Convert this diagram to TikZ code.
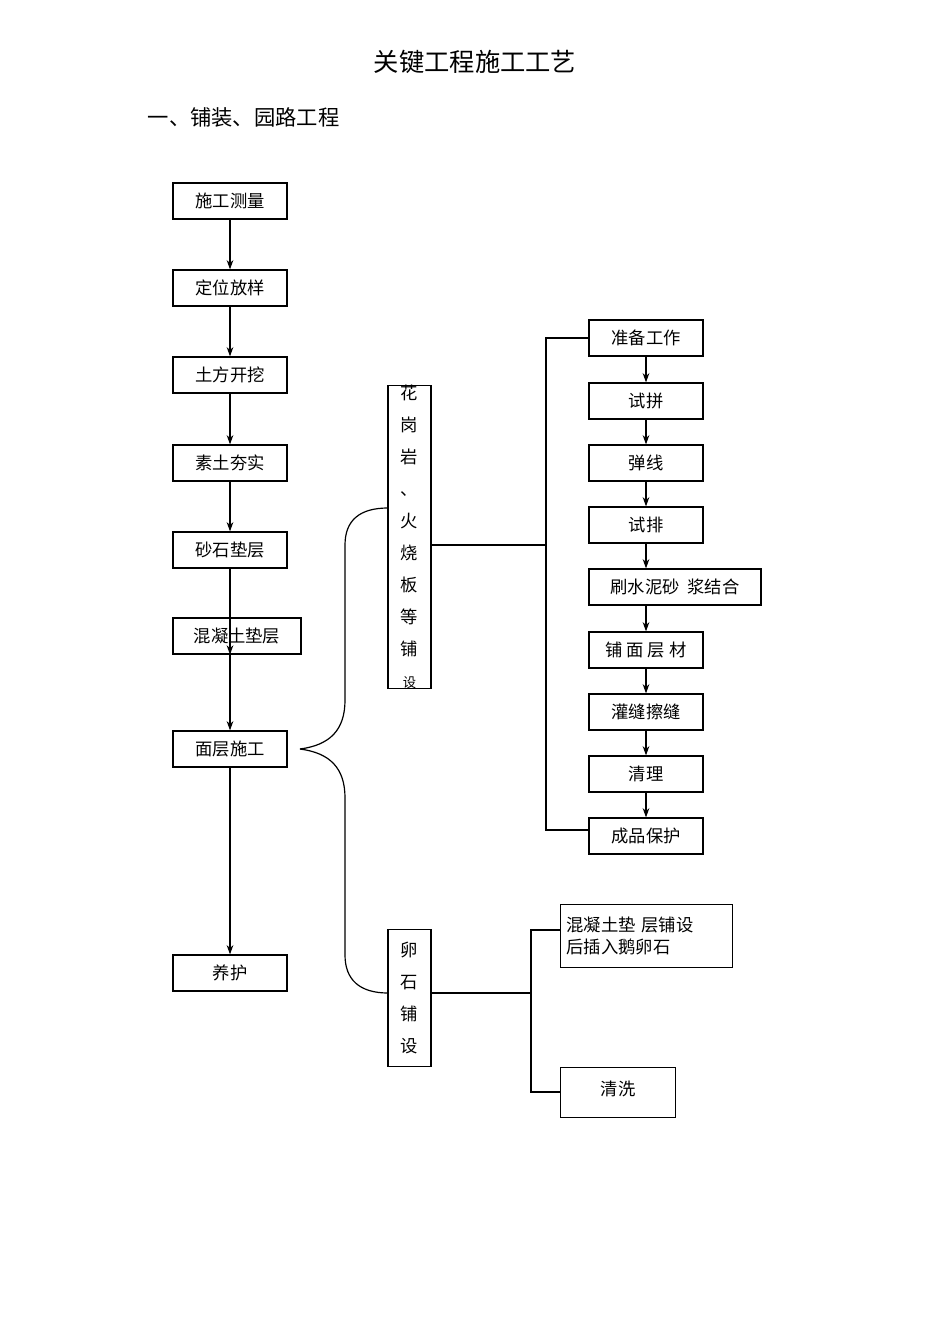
\documentclass[tikz,border=0pt]{standalone}
\usepackage{fontspec}
\setmainfont{Noto Sans CJK SC}
\usetikzlibrary{arrows.meta}
\begin{document}
\begin{tikzpicture}[x=0.0264cm,y=-0.0264cm,
  bx/.style={draw,line width=0.9pt,minimum height=36*0.0264cm,inner sep=0pt,font=\fontsize{13}{15}\selectfont},
  ln/.style={line width=0.9pt},
  ar/.style={ln,-{Stealth[length=7pt,width=5pt]}}]
\useasboundingbox (0,0) rectangle (950,1344);
\node at (475,62) {\fontsize{19}{22}\selectfont 关键工程施工工艺};
\node[anchor=west] at (143,117) {\fontsize{16}{19}\selectfont 一、铺装、园路工程};
% left column
\node[bx,minimum width=114*0.0264cm] (a1) at (230,201) {施工测量};
\node[bx,minimum width=114*0.0264cm] (a2) at (230,288) {定位放样};
\node[bx,minimum width=114*0.0264cm] (a3) at (230,375) {土方开挖};
\node[bx,minimum width=114*0.0264cm] (a4) at (230,463) {素土夯实};
\node[bx,minimum width=114*0.0264cm] (a5) at (230,550) {砂石垫层};
\node[bx,minimum width=128*0.0264cm] (a6) at (237,636) {混凝土垫层};
\node[bx,minimum width=114*0.0264cm] (a7) at (230,749) {面层施工};
\node[bx,minimum width=114*0.0264cm] (a8) at (230,973) {养护};
\draw[ar] (a1) -- (a2); \draw[ar] (a2) -- (a3); \draw[ar] (a3) -- (a4);
\draw[ar] (a4) -- (a5); \draw[ar] (a5) -- (a6.south -| a5);
\draw[ar] (a6.south -| a5) -- (a7); \draw[ar] (a7) -- (a8);
% vertical boxes
\node[bx,minimum width=43*0.0264cm,minimum height=262*0.0264cm,align=center,font=\fontsize{13}{24}\selectfont] (v1) at (409.5,537) {花\\岗\\岩\\、\\火\\烧\\板\\等\\铺\\{\fontsize{10}{12}\selectfont 设}};
\node[bx,minimum width=43*0.0264cm,minimum height=137*0.0264cm,align=center,font=\fontsize{13}{24}\selectfont] (v2) at (409.5,998) {卵\\石\\铺\\设};
% brace
\coordinate (bp) at (300,749);
\draw[ln] (bp) .. controls (330,745) and (345,730) .. (345,700) -- (345,545) .. controls (345,520) and (360,508) .. (388,508);
\draw[ln] (bp) .. controls (330,753) and (345,768) .. (345,798) -- (345,955) .. controls (345,980) and (360,993) .. (388,993);
% right column
\node[bx,minimum width=114*0.0264cm] (b1) at (646,338) {准备工作};
\node[bx,minimum width=114*0.0264cm] (b2) at (646,401) {试拼};
\node[bx,minimum width=114*0.0264cm] (b3) at (646,463) {弹线};
\node[bx,minimum width=114*0.0264cm] (b4) at (646,525) {试排};
\node[bx,minimum width=172*0.0264cm] (b5) at (675,587) {刷水泥砂\ \ 浆结合};
\node[bx,minimum width=114*0.0264cm] (b6) at (646,650) {铺\ 面\ 层\ 材};
\node[bx,minimum width=114*0.0264cm] (b7) at (646,712) {灌缝擦缝};
\node[bx,minimum width=114*0.0264cm] (b8) at (646,774) {清理};
\node[bx,minimum width=114*0.0264cm] (b9) at (646,836) {成品保护};
\draw[ar] (b1) -- (b2); \draw[ar] (b2) -- (b3); \draw[ar] (b3) -- (b4);
\draw[ar] (b4) -- (b5.north -| b4); \draw[ar] (b5.south -| b4) -- (b6);
\draw[ar] (b6) -- (b7); \draw[ar] (b7) -- (b8); \draw[ar] (b8) -- (b9);
\draw[ln] (v1.east |- 0,545) -- (546,545);
\draw[ln] (b1.west) -- (546,338) -- (546,830) -- (b9.west |- 0,830);
% pebble branch
\node[bx,minimum width=172*0.0264cm,minimum height=63*0.0264cm,align=left,anchor=north west,text width=160*0.0264cm,font=\fontsize{13}{17}\selectfont] (c1) at (560,904) {混凝土垫\ 层铺设\\后插入鹅卵石};
\node[bx,minimum width=115*0.0264cm,minimum height=50*0.0264cm,anchor=north west] (c2) at (560,1067) {\raisebox{6pt}{清洗}};
\draw[ln] (v2.east |- 0,993) -- (531,993);
\draw[ln] (560,930) -- (531,930) -- (531,1092) -- (560,1092);
\end{tikzpicture}
\end{document}
